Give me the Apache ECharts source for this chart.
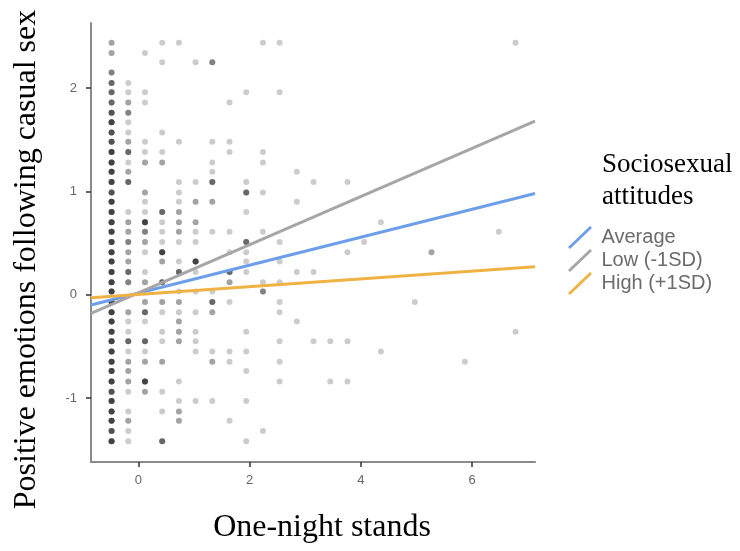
<!DOCTYPE html>
<html>
<head>
<meta charset="utf-8">
<script src="https://cdn.jsdelivr.net/npm/echarts@6/dist/echarts.min.js"></script>
<style>
html,body{margin:0;padding:0;background:#fff;}
#chart{width:740px;height:551px;}
</style>
</head>
<body>
<div id="chart"></div>
<script>
// ---- Data ----
// Scatter points: [one-night stands, positive emotions, number of overlapping observations]
const pointsLeftColumn = [
  [-0.48,2.44,2],[-0.48,2.34,2],[-0.48,2.15,3],[-0.48,2.05,4],[-0.48,1.96,4],[-0.48,1.86,4],
  [-0.48,1.76,5],[-0.48,1.67,6],[-0.48,1.57,5],[-0.48,1.48,5],[-0.48,1.38,6],[-0.48,1.28,6],
  [-0.48,1.19,6],[-0.48,1.09,6],[-0.48,0.99,5],[-0.48,0.90,6],[-0.48,0.80,6],[-0.48,0.70,6],
  [-0.48,0.61,6],[-0.48,0.51,6],[-0.48,0.41,6],[-0.48,0.32,6],[-0.48,0.22,6],[-0.48,0.12,6],
  [-0.48,0.03,6],[-0.48,-0.07,6],[-0.48,-0.17,6],[-0.48,-0.26,6],[-0.48,-0.36,6],[-0.48,-0.45,6],
  [-0.48,-0.55,6],[-0.48,-0.65,6],[-0.48,-0.74,6],[-0.48,-0.84,6],[-0.48,-0.94,5],[-0.48,-1.03,6],
  [-0.48,-1.13,6],[-0.48,-1.22,6],[-0.48,-1.32,5],[-0.48,-1.42,6]
];
const pointsCentre = [
  // x = -0.18
  [-0.18,2.05,1],[-0.18,1.96,1],[-0.18,1.86,2],[-0.18,1.76,3],[-0.18,1.67,1],[-0.18,1.57,1],
  [-0.18,1.48,2],[-0.18,1.38,4],[-0.18,1.28,1],[-0.18,1.19,2],[-0.18,1.09,4],[-0.18,0.80,1],
  [-0.18,0.70,2],[-0.18,0.61,2],[-0.18,0.51,3],[-0.18,0.41,2],[-0.18,0.32,2],[-0.18,0.22,4],
  [-0.18,0.12,3],[-0.18,-0.17,2],[-0.18,-0.26,1],[-0.18,-0.36,1],[-0.18,-0.45,4],[-0.18,-0.55,1],
  [-0.18,-0.65,2],[-0.18,-0.74,2],[-0.18,-0.84,2],[-0.18,-0.94,1],[-0.18,-1.13,1],[-0.18,-1.22,2],
  [-0.18,-1.32,1],[-0.18,-1.42,1],
  // x = 0.12
  [0.12,2.34,1],[0.12,1.96,1],[0.12,1.86,1],[0.12,1.48,1],[0.12,1.38,1],[0.12,1.28,2],
  [0.12,0.99,2],[0.12,0.90,1],[0.12,0.80,1],[0.12,0.70,6],[0.12,0.61,3],[0.12,0.51,2],
  [0.12,0.41,1],[0.12,0.22,1],[0.12,0.12,2],[0.12,-0.07,2],[0.12,-0.17,4],[0.12,-0.26,1],
  [0.12,-0.45,4],[0.12,-0.55,1],[0.12,-0.65,2],[0.12,-0.84,6],[0.12,-0.94,2],
  // x = 0.43
  [0.43,2.44,1],[0.43,2.25,1],[0.43,1.57,1],[0.43,1.38,1],[0.43,1.28,2],[0.43,0.80,4],
  [0.43,0.70,1],[0.43,0.61,1],[0.43,0.51,1],[0.43,0.41,6],[0.43,0.32,2],[0.43,0.12,4],
  [0.43,-0.07,2],[0.43,-0.17,1],[0.43,-0.36,1],[0.43,-0.45,1],[0.43,-0.65,2],[0.43,-0.94,1],
  [0.43,-1.13,1],[0.43,-1.42,4],
  // x = 0.73
  [0.73,2.44,1],[0.73,1.48,1],[0.73,1.09,1],[0.73,0.99,1],[0.73,0.90,1],[0.73,0.80,2],
  [0.73,0.70,2],[0.73,0.61,2],[0.73,0.51,1],[0.73,0.32,1],[0.73,0.22,4],[0.73,0.03,1],
  [0.73,-0.07,2],[0.73,-0.17,1],[0.73,-0.26,2],[0.73,-0.36,2],[0.73,-0.45,2],[0.73,-0.84,1],
  [0.73,-1.03,1],[0.73,-1.13,2],[0.73,-1.22,2],
  // x = 1.03
  [1.03,2.25,1],[1.03,1.09,1],[1.03,0.90,2],[1.03,0.70,2],[1.03,0.61,1],[1.03,0.51,1],
  [1.03,0.32,6],[1.03,0.22,1],[1.03,0.03,1],[1.03,-0.17,1],[1.03,-0.36,1],[1.03,-0.45,1],
  [1.03,-0.55,1],[1.03,-1.03,1]
];
const pointsRight = [
  // x = 1.33
  [1.33,2.25,3],[1.33,1.48,1],[1.33,1.28,1],[1.33,1.19,1],[1.33,1.09,4],[1.33,0.90,2],
  [1.33,0.61,1],[1.33,0.03,1],[1.33,-0.07,4],[1.33,-0.17,2],[1.33,-0.55,1],[1.33,-0.65,2],
  [1.33,-1.03,1],
  // x = 1.64
  [1.64,1.86,1],[1.64,1.48,1],[1.64,1.38,1],[1.64,0.61,1],[1.64,0.41,1],[1.64,0.22,4],
  [1.64,0.12,2],[1.64,-0.07,1],[1.64,-0.55,1],[1.64,-0.65,1],[1.64,-1.22,1],
  // x = 1.94
  [1.94,1.96,1],[1.94,1.09,1],[1.94,0.99,4],[1.94,0.80,1],[1.94,0.51,4],[1.94,0.41,1],
  [1.94,0.32,1],[1.94,0.22,1],[1.94,-0.36,1],[1.94,-0.55,1],[1.94,-0.74,1],[1.94,-1.03,1],
  [1.94,-1.42,1],
  // x = 2.24
  [2.24,2.44,1],[2.24,1.38,1],[2.24,1.28,1],[2.24,0.99,1],[2.24,0.61,1],[2.24,0.12,1],
  [2.24,0.03,3],[2.24,-1.32,1],
  // x = 2.54
  [2.54,2.44,1],[2.54,1.96,1],[2.54,0.51,1],[2.54,0.32,1],[2.54,0.12,1],[2.54,-0.07,1],
  [2.54,-0.17,1],[2.54,-0.45,1],[2.54,-0.65,1],[2.54,-0.84,1],
  // x >= 2.85
  [2.85,1.19,1],[2.85,0.90,1],[2.85,0.22,1],[2.85,-0.26,1],
  [3.15,1.09,1],[3.15,0.22,1],[3.15,-0.45,1],
  [3.45,-0.45,1],[3.45,-0.84,1],
  [3.76,1.09,1],[3.76,0.41,1],[3.76,-0.45,1],[3.76,-0.84,1],
  [4.06,0.51,1],
  [4.36,0.70,1],[4.36,-0.55,1],
  [4.97,-0.07,1],
  [5.27,0.41,2],
  [5.87,-0.65,1],
  [6.48,0.61,1],
  [6.78,2.44,1],[6.78,-0.36,1]
];

// Fitted simple slopes (end points at the axis limits)
const lineX = [-0.85, 7.13];
const averageY = [-0.10, 0.98];
const lowY = [-0.18, 1.68];
const highY = [-0.03, 0.27];
const seriesNames = ['Average', 'Low (-1SD)', 'High (+1SD)'];
const seriesColors = ['#6d9eea', '#a6a6a6', '#efb244'];

const xTicks = [0, 2, 4, 6];
const yTicks = [-1, 0, 1, 2];
const xRange = [-0.85, 7.13];
const yRange = [-1.62, 2.63];

// ---- Build the chart ----
const scatterData = [];
[pointsLeftColumn, pointsCentre, pointsRight].forEach(function (group) {
  group.forEach(function (p) {
    for (let i = 0; i < p[2]; i++) scatterData.push([p[0], p[1]]);
  });
});
function linePairs(ys) { return lineX.map(function (x, i) { return [x, ys[i]]; }); }

const slashIcon = 'path://M0,21 L22,0 L24,2 L2,23 Z';
const chart = echarts.init(document.getElementById('chart'), null, {renderer: 'canvas'});
chart.setOption({
  animation: false,
  backgroundColor: '#ffffff',
  title: {
    text: 'Sociosexual\nattitudes',
    left: 597, top: 144,
    textStyle: {fontFamily: 'Liberation Serif', fontSize: 27, fontWeight: 'normal', color: '#000', lineHeight: 32}
  },
  legend: {
    data: seriesNames,
    orient: 'vertical',
    left: 563, top: 221,
    itemWidth: 25, itemHeight: 23, itemGap: 0,
    icon: slashIcon,
    textStyle: {fontFamily: 'Liberation Sans', fontSize: 20, color: '#6b6b6b', padding: [0, 0, 0, 4], lineHeight: 22}
  },
  grid: {left: 91, right: 205, top: 23, bottom: 89, containLabel: false},
  xAxis: {
    type: 'value', min: xRange[0], max: xRange[1],
    name: 'One-night stands', nameLocation: 'middle', nameGap: 50,
    nameTextStyle: {fontFamily: 'Liberation Serif', fontSize: 32, color: '#000', padding: [0, 0, 0, 18]},
    axisLine: {show: true, onZero: false, lineStyle: {color: '#8a8a8a', width: 2}},
    axisTick: {show: true, customValues: xTicks, length: 5, lineStyle: {color: '#333', width: 1.5}},
    axisLabel: {customValues: xTicks, fontFamily: 'Liberation Sans', fontSize: 13, color: '#666', margin: 12},
    splitLine: {show: false}
  },
  yAxis: {
    type: 'value', min: yRange[0], max: yRange[1],
    name: 'Positive emotions following casual sex', nameLocation: 'middle', nameGap: 48,
    nameTextStyle: {fontFamily: 'Liberation Serif', fontSize: 32, color: '#000', padding: [0, 34, 0, 0]},
    axisLine: {show: true, onZero: false, lineStyle: {color: '#8a8a8a', width: 2}},
    axisTick: {show: true, customValues: yTicks, length: 5, lineStyle: {color: '#333', width: 1.5}},
    axisLabel: {customValues: yTicks, fontFamily: 'Liberation Sans', fontSize: 13, color: '#666', margin: 14},
    splitLine: {show: false}
  },
  series: [
    {
      type: 'scatter', name: 'observations', data: scatterData,
      symbolSize: 6, itemStyle: {color: 'rgba(0,0,0,0.25)'}, z: 1, silent: true
    },
    {type: 'line', name: seriesNames[0], data: linePairs(averageY), showSymbol: false, symbol: 'none',
     lineStyle: {color: seriesColors[0], width: 3}, itemStyle: {color: seriesColors[0]}, z: 3},
    {type: 'line', name: seriesNames[1], data: linePairs(lowY), showSymbol: false, symbol: 'none',
     lineStyle: {color: seriesColors[1], width: 3}, itemStyle: {color: seriesColors[1]}, z: 3},
    {type: 'line', name: seriesNames[2], data: linePairs(highY), showSymbol: false, symbol: 'none',
     lineStyle: {color: seriesColors[2], width: 3}, itemStyle: {color: seriesColors[2]}, z: 3}
  ]
});
</script>
</body>
</html>
